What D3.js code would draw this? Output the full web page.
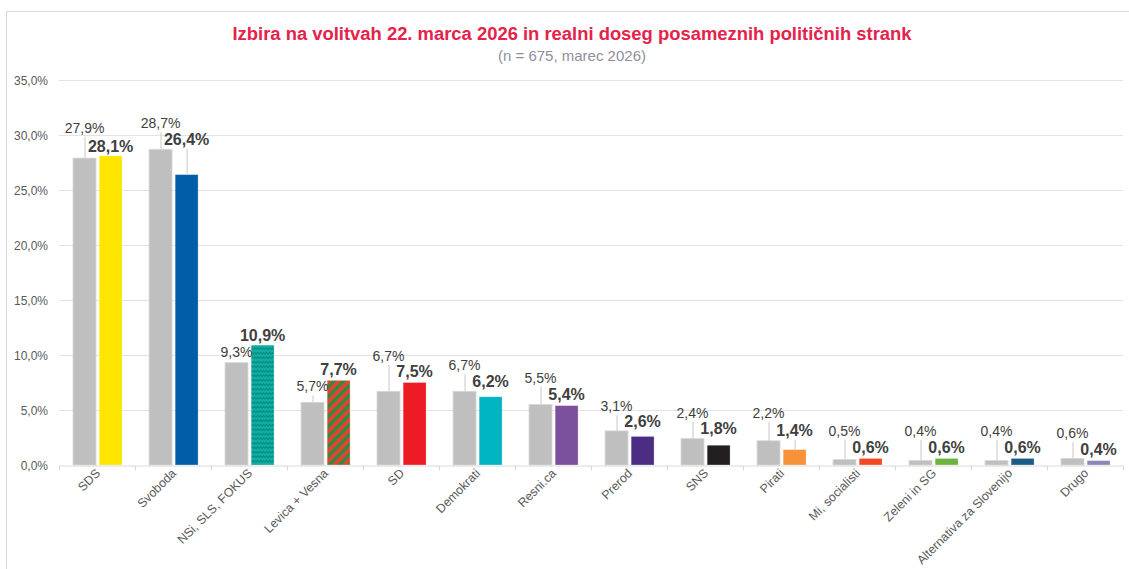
<!DOCTYPE html>
<html>
<head>
<meta charset="utf-8">
<script src="https://cdn.jsdelivr.net/npm/d3@7"></script>
<style>
  body { margin: 0; background: #fff; }
  svg { font-family: "Liberation Sans", Arial, sans-serif; display: block; }
</style>
</head>
<body>
<div id="chart"></div>
<script>
// data
var categories = ["SDS", "Svoboda", "NSi, SLS, FOKUS", "Levica + Vesna", "SD", "Demokrati",
  "Resni.ca", "Prerod", "SNS", "Pirati", "Mi, socialisti", "Zeleni in SG",
  "Alternativa za Slovenijo", "Drugo"];
var izbira = [27.9, 28.7, 9.3, 5.7, 6.7, 6.7, 5.5, 3.1, 2.4, 2.2, 0.5, 0.4, 0.4, 0.6];
var doseg = [28.1, 26.4, 10.9, 7.7, 7.5, 6.2, 5.4, 2.6, 1.8, 1.4, 0.6, 0.6, 0.6, 0.4];
var yTicks = [0, 5, 10, 15, 20, 25, 30, 35];

// party colours (two use a pattern)
var partyFill = ["#FFE600", "#005DA8", "url(#wave)", "url(#stripes)", "#ED1C24", "#00B5C3",
  "#7B519D", "#4B2D84", "#231F20", "#F7923A", "#EF4A24", "#6DB33F", "#1A5E85", "#8A87B3"];

// where the labels sit (in % units), they were moved by hand in the original
var izbiraLabelAt = [30.2, 30.6, 9.8, 6.7, 9.45, 8.6, 7.5, 4.9, 4.3, 4.3, 2.65, 2.65, 2.65, 2.45];
var dosegLabelAt = [28.5, 29.1, 11.3, 8.2, 8.0, 7.1, 5.9, 3.45, 2.8, 2.65, 1.1, 1.1, 1.1, 0.9];

var width = 1129;
var height = 569;
var fmt = function(v) { return v.toFixed(1).replace(".", ",") + "%"; };

var svg = d3.select("#chart").append("svg")
  .attr("width", width)
  .attr("height", height);

/* patterns */
var defs = svg.append("defs");
var wave = defs.append("pattern")
  .attr("id", "wave")
  .attr("patternUnits", "userSpaceOnUse")
  .attr("width", 6).attr("height", 4.5);
wave.append("rect").attr("width", 6).attr("height", 4.5).attr("fill", "#12ADA3");
wave.append("path")
  .attr("d", "M0,3 L1.5,1.5 L3,3 L4.5,1.5 L6,3")
  .attr("fill", "none").attr("stroke", "#00877F").attr("stroke-width", 1.1);

var stripes = defs.append("pattern")
  .attr("id", "stripes")
  .attr("patternUnits", "userSpaceOnUse")
  .attr("width", 7).attr("height", 7)
  .attr("patternTransform", "rotate(45)");
stripes.append("rect").attr("width", 7).attr("height", 7).attr("fill", "#E8412C");
stripes.append("rect").attr("width", 3.3).attr("height", 7).attr("fill", "#2E8B45");

/* frame */
svg.append("rect")
  .attr("x", 6.5).attr("y", 11.5)
  .attr("width", width + 20).attr("height", height + 20)
  .attr("fill", "none").attr("stroke", "#d9d9d9");

/* title */
svg.append("text")
  .attr("x", 572).attr("y", 40)
  .attr("text-anchor", "middle")
  .attr("font-size", 18).attr("font-weight", "bold")
  .attr("fill", "#E5224A")
  .attr("textLength", 679).attr("lengthAdjust", "spacingAndGlyphs")
  .text("Izbira na volitvah 22. marca 2026 in realni doseg posameznih političnih strank");

svg.append("text")
  .attr("x", 572).attr("y", 61)
  .attr("text-anchor", "middle")
  .attr("font-size", 15)
  .attr("fill", "#8E8E9C")
  .text("(n = 675, marec 2026)");

/* scales */
var x = d3.scaleBand()
  .domain(categories)
  .range([59, 1123]);

var sub = d3.scaleBand()
  .domain(["izbira", "doseg"])
  .range([x.bandwidth() * 0.185, x.bandwidth() * 0.83])
  .paddingInner(0.12);

var y = d3.scaleLinear()
  .domain([0, 35])
  .range([465, 80]);

/* grid + y axis */
svg.append("g")
  .selectAll("line")
  .data(yTicks.slice(1)).enter()
  .append("line")
  .attr("x1", 59).attr("x2", 1123)
  .attr("y1", d => Math.round(y(d)) + 0.5)
  .attr("y2", d => Math.round(y(d)) + 0.5)
  .attr("stroke", "#e3e3e3");

var yAxis = d3.axisLeft(y).tickValues(yTicks).tickSize(0).tickPadding(0)
  .tickFormat(d => d.toFixed(1).replace(".", ",") + "%");

svg.append("g")
  .attr("transform", "translate(48,0)")
  .call(yAxis)
  .call(g => g.select(".domain").remove())
  .selectAll("text")
  .attr("font-family", "Liberation Sans, Arial, sans-serif")
  .attr("font-size", 12)
  .attr("fill", "#595959")
  .attr("dy", "0.35em");

/* x axis */
var xAxis = d3.axisBottom(x).tickSize(0).tickFormat("");
var xg = svg.append("g")
  .attr("transform", "translate(0," + (Math.round(y(0)) + 0.5) + ")")
  .call(xAxis);
xg.select(".domain").attr("stroke", "#d9d9d9");
xg.selectAll(".tick").remove();

// tick marks between categories
xg.selectAll(".sep")
  .data(categories.concat(["end"])).enter()
  .append("line")
  .attr("class", "sep")
  .attr("x1", (d, i) => Math.round(59 + i * x.step()) + 0.5)
  .attr("x2", (d, i) => Math.round(59 + i * x.step()) + 0.5)
  .attr("y1", 0).attr("y2", 5)
  .attr("stroke", "#d9d9d9");

svg.append("g")
  .selectAll("text")
  .data(categories).enter()
  .append("text")
  .attr("transform", d => "translate(" + (x(d) + x.bandwidth() / 2 + 4) + ",474) rotate(-45)")
  .attr("text-anchor", "end")
  .attr("font-size", 12.4)
  .attr("fill", "#595959")
  .text(d => d);

/* bars */
var rows = categories.map(function(c, i) {
  return {name: c, izbira: izbira[i], doseg: doseg[i], fill: partyFill[i],
    izbiraAt: izbiraLabelAt[i], dosegAt: dosegLabelAt[i]};
});

var groups = svg.append("g")
  .selectAll("g")
  .data(rows).enter()
  .append("g")
  .attr("transform", d => "translate(" + x(d.name) + ",0)");

groups.append("rect")
  .attr("x", sub("izbira"))
  .attr("width", sub.bandwidth())
  .attr("y", d => y(d.izbira))
  .attr("height", d => y(0) - y(d.izbira))
  .attr("fill", "#BFBFBF")
  .attr("stroke", "#d6d6d6").attr("stroke-width", 0.8);

groups.append("rect")
  .attr("x", sub("doseg"))
  .attr("width", sub.bandwidth())
  .attr("y", d => y(d.doseg))
  .attr("height", d => y(0) - y(d.doseg))
  .attr("fill", d => d.fill)
  .attr("stroke", "#ffffff").attr("stroke-width", 0.6).attr("stroke-opacity", 0.5);

/* leader lines */
groups.filter(d => y(d.izbira) - y(d.izbiraAt) > 8)
  .append("line")
  .attr("x1", sub("izbira") + sub.bandwidth() / 2 + 0.5)
  .attr("x2", sub("izbira") + sub.bandwidth() / 2 + 0.5)
  .attr("y1", d => y(d.izbiraAt) + 4)
  .attr("y2", d => y(d.izbira))
  .attr("stroke", "#c8c8c8");

groups.filter(d => y(d.doseg) - y(d.dosegAt) > 12)
  .append("line")
  .attr("x1", sub("doseg") + sub.bandwidth() / 2 + 0.5)
  .attr("x2", sub("doseg") + sub.bandwidth() / 2 + 0.5)
  .attr("y1", d => y(d.dosegAt) + 4)
  .attr("y2", d => y(d.doseg))
  .attr("stroke", "#c8c8c8");

/* value labels */
groups.append("text")
  .attr("x", sub("izbira") + sub.bandwidth() / 2)
  .attr("y", d => y(d.izbiraAt))
  .attr("text-anchor", "middle")
  .attr("font-size", 14)
  .attr("fill", "#404040")
  .text(d => fmt(d.izbira));

groups.append("text")
  .attr("x", sub("doseg") + sub.bandwidth() / 2)
  .attr("y", d => y(d.dosegAt))
  .attr("text-anchor", "middle")
  .attr("font-size", 16)
  .attr("font-weight", "bold")
  .attr("fill", "#404040")
  .text(d => fmt(d.doseg));
</script>
</body>
</html>
